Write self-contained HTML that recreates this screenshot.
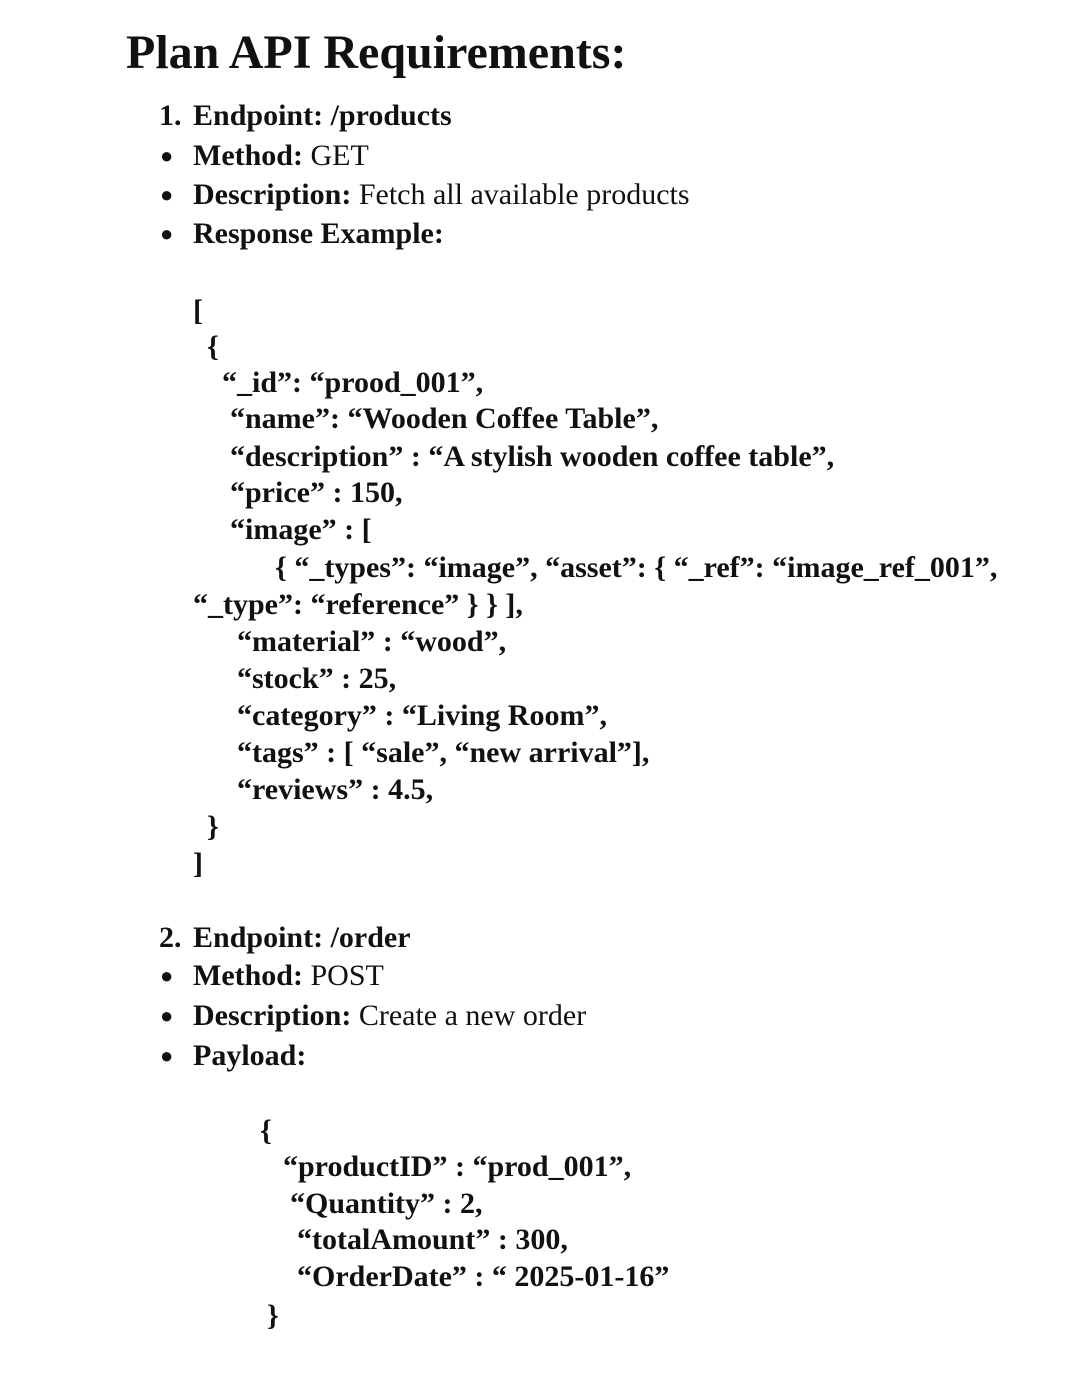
<!DOCTYPE html>
<html><head><meta charset="utf-8"><style>
body{margin:0;width:1080px;height:1386px;background:#fff;position:relative;overflow:hidden;font-family:"Liberation Serif","Times New Roman",serif;color:#111}
div{position:absolute;white-space:nowrap;font-size:30px;line-height:32px;height:32px}
.b{font-weight:bold}
.t{font-size:48px;line-height:50px;height:50px;font-weight:bold}
.d{font-size:22px}
.c{font-size:30px}
</style></head><body>
<div class="t" style="left:126px;top:28px">Plan API Requirements:</div>

<div class="b" style="left:159px;top:100px">1.</div>
<div style="left:193px;top:100px"><b>Endpoint: /products</b></div>
<div class="d" style="left:160px;top:140px">●</div>
<div style="left:193px;top:140px"><b>Method:</b> GET</div>
<div class="d" style="left:160px;top:179px">●</div>
<div style="left:193px;top:179px"><b>Description:</b> Fetch all available products</div>
<div class="d" style="left:160px;top:218px">●</div>
<div style="left:193px;top:218px"><b>Response Example:</b></div>

<div class="b c" style="left:193px;top:295px">[</div>
<div class="b c" style="left:207px;top:331px">{</div>
<div class="b c" style="left:222px;top:367px">“_id”: “prood_001”,</div>
<div class="b c" style="left:230px;top:403px">“name”: “Wooden Coffee Table”,</div>
<div class="b c" style="left:230px;top:441px">“description” : “A stylish wooden coffee table”,</div>
<div class="b c" style="left:230px;top:477px">“price” : 150,</div>
<div class="b c" style="left:230px;top:514px">“image” : [</div>
<div class="b c" style="left:275px;top:552px">{ “_types”: “image”, “asset”: { “_ref”: “image_ref_001”,</div>
<div class="b c" style="left:193px;top:589px">“_type”: “reference” } } ],</div>
<div class="b c" style="left:237px;top:626px">“material” : “wood”,</div>
<div class="b c" style="left:237px;top:663px">“stock” : 25,</div>
<div class="b c" style="left:237px;top:700px">“category” : “Living Room”,</div>
<div class="b c" style="left:237px;top:737px">“tags” : [ “sale”, “new arrival”],</div>
<div class="b c" style="left:237px;top:774px">“reviews” : 4.5,</div>
<div class="b c" style="left:207px;top:811px">}</div>
<div class="b c" style="left:193px;top:848px">]</div>

<div class="b" style="left:159px;top:922px">2.</div>
<div style="left:193px;top:922px"><b>Endpoint: /order</b></div>
<div class="d" style="left:160px;top:960px">●</div>
<div style="left:193px;top:960px"><b>Method:</b> POST</div>
<div class="d" style="left:160px;top:1000px">●</div>
<div style="left:193px;top:1000px"><b>Description:</b> Create a new order</div>
<div class="d" style="left:160px;top:1040px">●</div>
<div style="left:193px;top:1040px"><b>Payload:</b></div>

<div class="b c" style="left:260px;top:1115px">{</div>
<div class="b c" style="left:283px;top:1151px">“productID” : “prod_001”,</div>
<div class="b c" style="left:290px;top:1188px">“Quantity” : 2,</div>
<div class="b c" style="left:297px;top:1224px">“totalAmount” : 300,</div>
<div class="b c" style="left:297px;top:1261px">“OrderDate” : “ 2025-01-16”</div>
<div class="b c" style="left:267px;top:1300px">}</div>
</body></html>
